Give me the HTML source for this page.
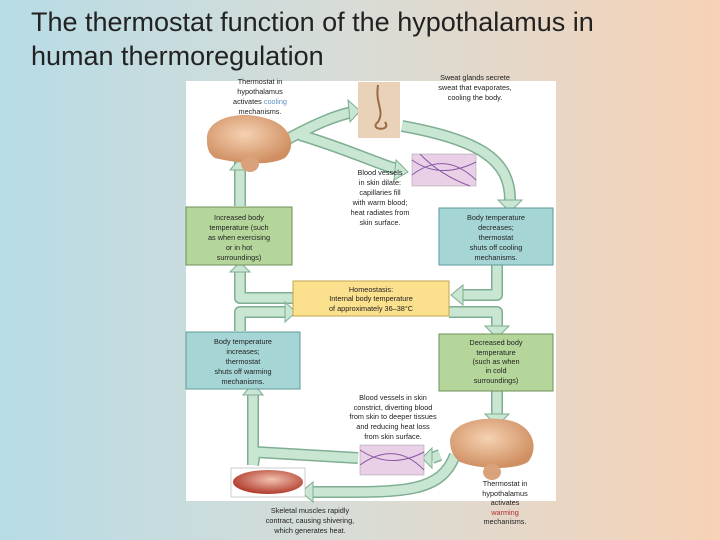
<!DOCTYPE html>
<html><head><meta charset="utf-8"><style>
html,body{margin:0;padding:0}
body{width:720px;height:540px;overflow:hidden;background:linear-gradient(90deg,#b7dce6 0%,#d9dcd6 50%,#f6d2b6 100%);font-family:"Liberation Sans",sans-serif;position:relative}
.t{position:absolute;left:31px;top:5px;font-size:27px;line-height:34px;color:#222;white-space:nowrap}
svg{position:absolute;left:0;top:0}
</style></head><body>
<svg width="720" height="540" viewBox="0 0 720 540" font-family="Liberation Sans, sans-serif">
<defs>
<radialGradient id="br" cx="45%" cy="40%" r="60%"><stop offset="0" stop-color="#f6d2b2"/><stop offset="1" stop-color="#cf8f62"/></radialGradient>
<radialGradient id="mu" cx="55%" cy="40%" r="60%"><stop offset="0" stop-color="#f2c3b0"/><stop offset="1" stop-color="#b13a2c"/></radialGradient>
</defs>
<rect x="186" y="81" width="370" height="420" fill="#fff"/>
<g fill="none" stroke-linecap="butt" stroke-linejoin="round">
<g stroke="#7fae93" stroke-width="12">
<path d="M272 148 C320 120 340 115 352 112"/>
<path d="M300 135 C350 150 380 165 400 170"/>
<path d="M402 126 C480 140 510 160 510 200"/>
<path d="M497 265 L497 295 L462 295"/>
<path d="M293 298 L240 298 L240 272"/>
<path d="M240 142 L240 206"/>
<path d="M240 331 L240 312 L285 312"/>
<path d="M449 312 L497 312 L497 327"/>
<path d="M497 391 L497 416"/>
<path d="M358 458 L255 452 L253 465"/>
<path d="M455 455 C440 495 400 492 312 492"/>
<path d="M440 455 L432 458"/>
<path d="M253 395 L253 465"/>
</g>
<g stroke="#c9e6d3" stroke-width="9">
<path d="M272 148 C320 120 340 115 352 112"/>
<path d="M300 135 C350 150 380 165 400 170"/>
<path d="M402 126 C480 140 510 160 510 200"/>
<path d="M497 265 L497 295 L462 295"/>
<path d="M293 298 L240 298 L240 272"/>
<path d="M240 142 L240 206"/>
<path d="M240 331 L240 312 L285 312"/>
<path d="M449 312 L497 312 L497 327"/>
<path d="M497 391 L497 416"/>
<path d="M358 458 L255 452 L253 465"/>
<path d="M455 455 C440 495 400 492 312 492"/>
<path d="M440 455 L432 458"/>
<path d="M253 395 L253 465"/>
</g>
</g>
<g fill="#c9e6d3" stroke="#7fae93" stroke-width="1">
<polygon points="348,100 360,111 350,122"/>
<polygon points="396,160 408,172 394,180"/>
<polygon points="498,200 522,200 510,212"/>
<polygon points="463,285 463,305 451,295"/>
<polygon points="230,272 250,272 240,262"/>
<polygon points="230,170 250,170 240,158"/>
<polygon points="285,302 285,322 296,312"/>
<polygon points="485,326 509,326 497,338"/>
<polygon points="485,414 509,414 497,426"/>
<polygon points="243,395 263,395 253,383"/>
<polygon points="313,482 313,502 301,492"/>
<polygon points="432,448 432,468 422,458"/>
</g>
<rect x="186" y="207" width="106" height="58" fill="#b5d69b" stroke="#6f8f5a"/>
<rect x="439" y="208" width="114" height="57" fill="#a5d6d5" stroke="#5e9a98"/>
<rect x="293" y="281" width="156" height="35" fill="#fbe08d" stroke="#c3a64e"/>
<rect x="186" y="332" width="114" height="57" fill="#a5d6d5" stroke="#5e9a98"/>
<rect x="439" y="334" width="114" height="57" fill="#b5d69b" stroke="#6f8f5a"/>
<rect x="358" y="82" width="42" height="56" fill="#ead2b8"/>
<path d="M378 85 C375 105 385 110 378 122 C368 130 392 132 385 122" stroke="#9b6a45" fill="none" stroke-width="2"/>
<rect x="412" y="154" width="64" height="32" fill="#e9d0e6" stroke="#999" stroke-width=".5"/>
<path d="M412 160 Q440 180 476 162 M412 175 Q445 150 476 180 M420 154 Q440 175 470 186" stroke="#8a5aa5" fill="none"/>
<rect x="360" y="445" width="64" height="30" fill="#e9d0e6" stroke="#999" stroke-width=".5"/>
<path d="M360 450 Q390 470 424 452 M360 465 Q395 440 424 470" stroke="#8a5aa5" fill="none"/>
<rect x="231" y="468" width="74" height="29" fill="#fff" stroke="#999" stroke-width=".5"/>
<ellipse cx="268" cy="482" rx="35" ry="12" fill="url(#mu)"/>
<path d="M207 140 C205 118 240 110 265 118 C290 124 298 145 285 158 C270 166 240 164 215 158 C208 153 207 147 207 140Z" fill="url(#br)"/>
<ellipse cx="250" cy="164" rx="9" ry="8" fill="#d9a27a"/>
<path d="M450 440 C452 420 490 414 515 422 C535 430 538 450 528 462 C515 470 480 470 460 462 C452 456 450 448 450 440Z" fill="url(#br)"/>
<ellipse cx="492" cy="472" rx="9" ry="8" fill="#d9a27a"/>
<g font-size="7.3" fill="#222" text-anchor="middle">
<text x="260" y="84">Thermostat in</text><text x="260" y="94">hypothalamus</text>
<text x="260" y="104">activates <tspan fill="#5b8fc4">cooling</tspan></text><text x="260" y="114">mechanisms.</text>
<text x="475" y="80">Sweat glands secrete</text><text x="475" y="90">sweat that evaporates,</text><text x="475" y="100">cooling the body.</text>
<text x="380" y="175">Blood vessels</text><text x="380" y="185">in skin dilate:</text><text x="380" y="195">capillaries fill</text><text x="380" y="205">with warm blood;</text><text x="380" y="215">heat radiates from</text><text x="380" y="225">skin surface.</text>
<text x="239" y="220">Increased body</text><text x="239" y="230">temperature (such</text><text x="239" y="240">as when exercising</text><text x="239" y="250">or in hot</text><text x="239" y="260">surroundings)</text>
<text x="496" y="220">Body temperature</text><text x="496" y="230">decreases;</text><text x="496" y="240">thermostat</text><text x="496" y="250">shuts off cooling</text><text x="496" y="260">mechanisms.</text>
<text x="371" y="292">Homeostasis:</text><text x="371" y="301">Internal body temperature</text><text x="371" y="311">of approximately 36–38°C</text>
<text x="243" y="344">Body temperature</text><text x="243" y="354">increases;</text><text x="243" y="364">thermostat</text><text x="243" y="374">shuts off warming</text><text x="243" y="384">mechanisms.</text>
<text x="496" y="345">Decreased body</text><text x="496" y="355">temperature</text><text x="496" y="364">(such as when</text><text x="496" y="373">in cold</text><text x="496" y="383">surroundings)</text>
<text x="393" y="400">Blood vessels in skin</text><text x="393" y="410">constrict, diverting blood</text><text x="393" y="419">from skin to deeper tissues</text><text x="393" y="429">and reducing heat loss</text><text x="393" y="439">from skin surface.</text>
<text x="310" y="513">Skeletal muscles rapidly</text><text x="310" y="523">contract, causing shivering,</text><text x="310" y="533">which generates heat.</text>
<text x="505" y="486">Thermostat in</text><text x="505" y="496">hypothalamus</text><text x="505" y="505">activates</text><text x="505" y="515" fill="#b03030">warming</text><text x="505" y="524">mechanisms.</text>
</g>
</svg>
<div class="t">The thermostat function of the hypothalamus in<br>human thermoregulation</div>
</body></html>
